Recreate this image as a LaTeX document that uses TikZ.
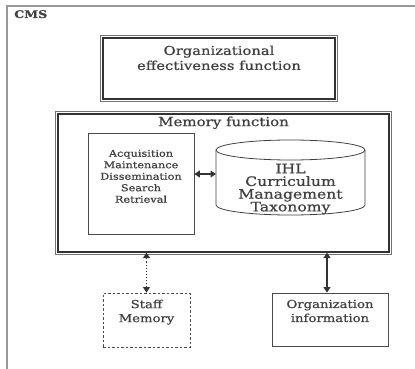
\documentclass[tikz,border=0pt]{standalone}
\usepackage{fontspec}
\setmainfont{DejaVu Serif}[FakeStretch=1.2,FakeBold=0.8]
\usetikzlibrary{shapes.geometric,arrows.meta,positioning}
\tikzset{
  plainbox/.style={draw=black!70,line width=.8pt},
  innerline/.style={draw=black!80,line width=1.2pt},
  outerline/.style={draw=black!55,line width=.7pt},
  dashbox/.style={draw=black!70,line width=.9pt,dash pattern=on 2.5pt off 2pt},
  txt/.style={text=black!75,align=center,inner sep=0pt},
  link/.style={draw=black!80,line width=1.1pt,{Triangle[length=5.5pt,width=7pt]}-{Triangle[length=5.5pt,width=7pt]}},
}
\begin{document}
\begin{tikzpicture}[x=1pt,y=-1pt]
  \useasboundingbox (0,0) rectangle (415,369);
  % CMS frame, only top and left are seen
  \draw[gray!80,line width=1.6pt] (7,369)--(7,6)--(415,6);
  \node[txt,anchor=north west,font=\bfseries\fontsize{10.5}{12}\selectfont] (cms) at (14,10) {CMS};
  \node[innerline,minimum width=232,minimum height=61] (org) at (219,68.5) {};
  \draw[outerline] ([shift={(-2pt,2pt)}]org.north west) rectangle ([shift={(2pt,-2pt)}]org.south east);
  \node[txt,font=\fontsize{12.3}{15}\selectfont,below=8pt of org.north] (orgtxt) {Organizational\\effectiveness function};
  % memory function
  \node[innerline,minimum width=331,minimum height=138] (mem) at (223.5,183) {};
  \draw[outerline] ([shift={(-2pt,2pt)}]mem.north west) rectangle ([shift={(2pt,-2pt)}]mem.south east);
  \node[txt,font=\fontsize{12.5}{14}\selectfont,below=3pt of mem.north] (memtxt) {Memory function};
  \node[plainbox,txt,minimum width=106,minimum height=101,font=\fontsize{9.4}{11.5}\selectfont] (acq) at (141,183.5)
    {Acquisition\\Maintenance\\Dissemination\\Search\\Retrieval\\[3pt]};
  % database drum
  \draw[draw=black!75,line width=.8pt] (216,150) -- (216,205) arc[start angle=180,end angle=360,x radius=74.5pt,y radius=10pt] -- (365,150);
  \draw[draw=black!75,line width=.8pt] (290.5,150) ellipse[x radius=74.5pt,y radius=10pt];
  \node[txt,font=\fontsize{13}{12.7}\selectfont] (tax) at (290.5,189) {IHL\\Curriculum\\Management\\Taxonomy};
  \coordinate (taxw) at (216,174);
  \draw[link] ([yshift=9.5pt]acq.east) -- (taxw);
  % outside sources
  \node[dashbox,minimum width=87,minimum height=54,
    label={[txt,anchor=north,yshift=-7pt,font=\fontsize{11}{14}\selectfont]north:Staff\\Memory}] (staff) at (146.5,320) {};
  \node[plainbox,minimum width=116,minimum height=53,
    label={[txt,anchor=north,yshift=-7pt,font=\fontsize{11}{14}\selectfont]north:Organization\\information}] (info) at (330,319.5) {};
  \draw[link,dotted] (staff.north) -- (staff.north |- mem.south);
  \draw[link] ([xshift=-3pt]info.north) -- ([xshift=-3pt]info.north |- mem.south);
\end{tikzpicture}
\end{document}
